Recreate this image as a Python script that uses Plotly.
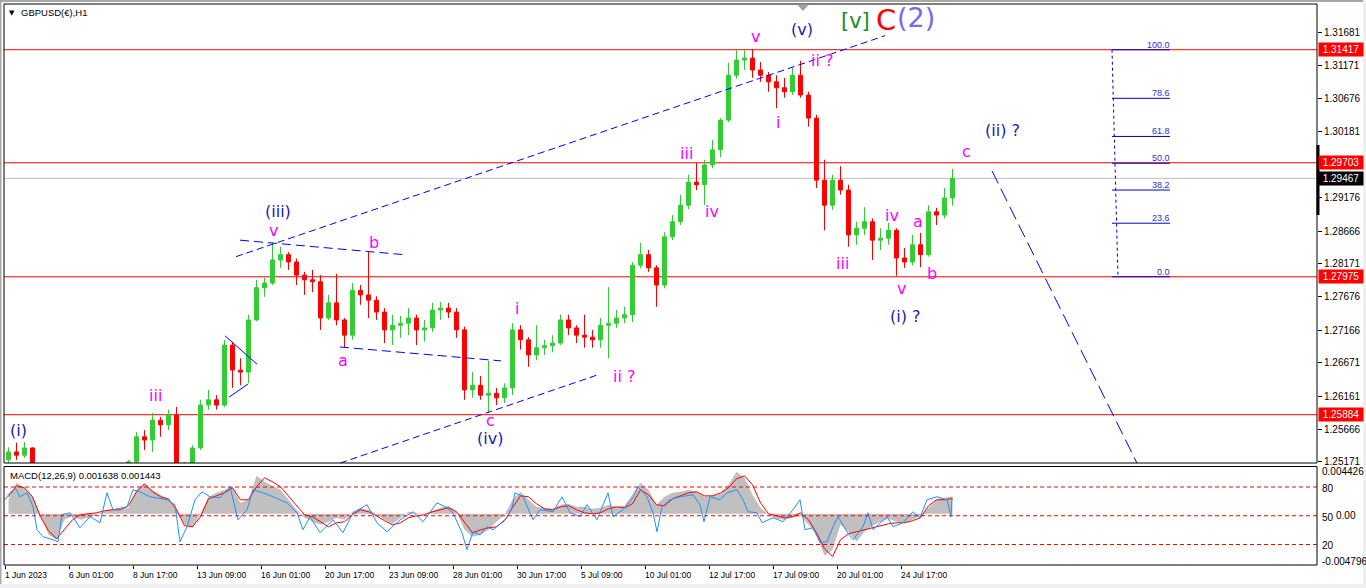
import plotly.graph_objects as go

# ---------------- DATA ----------------
# 8-hour candles (bar index = hourly bar number from 1 Jun 2023)
opens = [1.2520, 1.2532, 1.2527, 1.2538, 1.2505, 1.2482, 1.2467, 1.2459, 1.2462, 1.2459,
         1.2436, 1.2444, 1.2459, 1.2467, 1.2474, 1.2489, 1.2517, 1.2555, 1.2550, 1.2580,
         1.2573, 1.2588, 1.2508, 1.2515, 1.2538, 1.2603, 1.2611, 1.2603, 1.2694, 1.2656,
         1.2653, 1.2732, 1.2781, 1.2788, 1.2823, 1.2831, 1.2820, 1.2800, 1.2793, 1.2790,
         1.2735, 1.2758, 1.2732, 1.2709, 1.2777, 1.2770, 1.2762, 1.2744, 1.2717, 1.2724,
         1.2727, 1.2735, 1.2717, 1.2720, 1.2747, 1.2750, 1.2744, 1.2717, 1.2626, 1.2633,
         1.2618, 1.2621, 1.2614, 1.2629, 1.2717, 1.2702, 1.2679, 1.2690, 1.2693, 1.2697,
         1.2732, 1.2720, 1.2709, 1.2706, 1.2702, 1.2724, 1.2727, 1.2735, 1.2740, 1.2815,
         1.2831, 1.2811, 1.2785, 1.2858, 1.2881, 1.2906, 1.2941, 1.2937, 1.2967, 1.2990,
         1.3035, 1.3103, 1.3126, 1.3129, 1.3111, 1.3103, 1.3093, 1.3084, 1.3078, 1.3103,
         1.3073, 1.3038, 1.2944, 1.2906, 1.2944, 1.2929, 1.2861, 1.2871, 1.2881, 1.2853,
         1.2856, 1.2868, 1.2826, 1.2820, 1.2846, 1.2831, 1.2896, 1.2891, 1.2917]
highs = [1.2539, 1.2546, 1.2547, 1.2539, 1.2508, 1.2489, 1.2474, 1.2471, 1.2474, 1.2467,
         1.2452, 1.2467, 1.2477, 1.2482, 1.2492, 1.2520, 1.2562, 1.2565, 1.2591, 1.2585,
         1.2596, 1.2600, 1.2517, 1.2542, 1.2611, 1.2626, 1.2618, 1.2702, 1.2699, 1.2674,
         1.2740, 1.2793, 1.2796, 1.2849, 1.2843, 1.2835, 1.2825, 1.2805, 1.2808, 1.2800,
         1.2770, 1.2802, 1.2735, 1.2788, 1.2785, 1.2835, 1.2768, 1.2750, 1.2740, 1.2738,
         1.2750, 1.2740, 1.2732, 1.2758, 1.2759, 1.2758, 1.2750, 1.2722, 1.2653, 1.2647,
         1.2670, 1.2629, 1.2636, 1.2727, 1.2724, 1.2706, 1.2724, 1.2702, 1.2709, 1.2740,
         1.2740, 1.2724, 1.2740, 1.2717, 1.2735, 1.2782, 1.2747, 1.2752, 1.2820, 1.2849,
         1.2838, 1.2815, 1.2865, 1.2891, 1.2922, 1.2952, 1.2970, 1.2975, 1.3005, 1.3038,
         1.3122, 1.3141, 1.3141, 1.3143, 1.3123, 1.3108, 1.3103, 1.3099, 1.3114, 1.3125,
         1.3078, 1.3043, 1.2975, 1.2952, 1.2965, 1.2937, 1.2881, 1.2903, 1.2886, 1.2871,
         1.2879, 1.2871, 1.2841, 1.2861, 1.2864, 1.2906, 1.2902, 1.2932, 1.2961]
lows = [1.2502, 1.2520, 1.2523, 1.2502, 1.2474, 1.2459, 1.2444, 1.2447, 1.2452, 1.2429,
        1.2421, 1.2436, 1.2452, 1.2459, 1.2467, 1.2482, 1.2512, 1.2535, 1.2532, 1.2555,
        1.2565, 1.2490, 1.2492, 1.2512, 1.2535, 1.2596, 1.2596, 1.2600, 1.2629, 1.2633,
        1.2636, 1.2730, 1.2767, 1.2785, 1.2811, 1.2808, 1.2785, 1.2770, 1.2774, 1.2717,
        1.2732, 1.2724, 1.2691, 1.2702, 1.2755, 1.2735, 1.2732, 1.2697, 1.2694, 1.2705,
        1.2709, 1.2694, 1.2699, 1.2714, 1.2732, 1.2735, 1.2705, 1.2611, 1.2614, 1.2611,
        1.2591, 1.2603, 1.2606, 1.2618, 1.2687, 1.2661, 1.2671, 1.2679, 1.2683, 1.2694,
        1.2709, 1.2697, 1.2690, 1.2690, 1.2690, 1.2674, 1.2720, 1.2727, 1.2729, 1.2810,
        1.2805, 1.2752, 1.2780, 1.2853, 1.2876, 1.2900, 1.2929, 1.2906, 1.2962, 1.2979,
        1.3032, 1.3098, 1.3111, 1.3099, 1.3093, 1.3078, 1.3053, 1.3069, 1.3073, 1.3069,
        1.3025, 1.2932, 1.2868, 1.2899, 1.2922, 1.2843, 1.2846, 1.2861, 1.2823, 1.2838,
        1.2846, 1.2799, 1.2811, 1.2815, 1.2812, 1.2828, 1.2876, 1.2886, 1.2905]
closes = [1.2532, 1.2527, 1.2538, 1.2505, 1.2482, 1.2467, 1.2459, 1.2462, 1.2459, 1.2436,
          1.2444, 1.2459, 1.2467, 1.2474, 1.2489, 1.2517, 1.2555, 1.2550, 1.2580, 1.2573,
          1.2588, 1.2508, 1.2515, 1.2538, 1.2603, 1.2611, 1.2603, 1.2694, 1.2656, 1.2653,
          1.2732, 1.2781, 1.2788, 1.2823, 1.2831, 1.2820, 1.2800, 1.2793, 1.2790, 1.2735,
          1.2758, 1.2732, 1.2709, 1.2777, 1.2770, 1.2762, 1.2744, 1.2717, 1.2724, 1.2727,
          1.2735, 1.2717, 1.2720, 1.2747, 1.2750, 1.2744, 1.2717, 1.2626, 1.2633, 1.2618,
          1.2621, 1.2614, 1.2629, 1.2717, 1.2702, 1.2679, 1.2690, 1.2693, 1.2697, 1.2732,
          1.2720, 1.2709, 1.2706, 1.2702, 1.2724, 1.2727, 1.2735, 1.2740, 1.2815, 1.2831,
          1.2811, 1.2785, 1.2858, 1.2881, 1.2906, 1.2941, 1.2937, 1.2967, 1.2990, 1.3035,
          1.3103, 1.3126, 1.3129, 1.3111, 1.3103, 1.3093, 1.3084, 1.3078, 1.3103, 1.3073,
          1.3038, 1.2944, 1.2906, 1.2944, 1.2929, 1.2861, 1.2871, 1.2881, 1.2853, 1.2856,
          1.2868, 1.2826, 1.2820, 1.2846, 1.2831, 1.2896, 1.2891, 1.2917, 1.29467]

# MACD(12,26,9): main (grey histogram) and signal (red), one value per candle
macd_main = [0.00131, 0.00290, 0.00243, 0.00159, -0.00009, -0.00196, -0.00243, -0.00056, -0.00019, -0.00056,
             -0.00037, -0.00009, 0.00028, 0.00047, 0.00037, 0.00056, 0.00224, 0.00281, 0.00224, 0.00178,
             0.00131, 0.00056, -0.00103, -0.00131, 0.00000, 0.00159, 0.00196, 0.00224, 0.00253, 0.00103,
             0.00131, 0.00355, 0.00299, 0.00262, 0.00224, 0.00131, 0.00037, -0.00037, -0.00075, -0.00103,
             -0.00075, -0.00037, -0.00056, 0.00019, 0.00047, 0.00037, 0.00000, -0.00056, -0.00094, -0.00037,
             0.00019, 0.00009, 0.00000, 0.00028, 0.00056, 0.00075, 0.00019, -0.00150, -0.00215, -0.00196,
             -0.00150, -0.00075, -0.00009, 0.00131, 0.00206, 0.00131, 0.00065, 0.00056, 0.00047, 0.00084,
             0.00094, 0.00065, 0.00065, 0.00047, 0.00056, 0.00084, 0.00065, 0.00075, 0.00178, 0.00290,
             0.00224, 0.00084, 0.00159, 0.00196, 0.00206, 0.00224, 0.00206, 0.00159, 0.00168, 0.00187,
             0.00271, 0.00393, 0.00337, 0.00178, 0.00056, -0.00009, -0.00047, -0.00056, -0.00037, -0.00019,
             -0.00103, -0.00196, -0.00393, -0.00337, -0.00103, -0.00168, -0.00262, -0.00168, -0.00112, -0.00075,
             -0.00047, -0.00075, -0.00084, -0.00056, -0.00019, 0.00056, 0.00131, 0.00150, 0.001638]
macd_signal = [0.00159, 0.00262, 0.00243, 0.00159, -0.00028, -0.00159, -0.00234, -0.00150, -0.00056, -0.00009,
               0.00000, 0.00009, 0.00028, 0.00037, 0.00037, 0.00075, 0.00206, 0.00281, 0.00206, 0.00159,
               0.00140, 0.00037, -0.00112, -0.00122, -0.00028, 0.00140, 0.00168, 0.00196, 0.00243, 0.00131,
               0.00131, 0.00253, 0.00337, 0.00299, 0.00253, 0.00168, 0.00075, -0.00009, -0.00028, -0.00075,
               -0.00122, -0.00084, -0.00075, -0.00009, 0.00037, 0.00019, -0.00019, -0.00065, -0.00103, -0.00084,
               -0.00037, -0.00019, -0.00009, 0.00019, 0.00037, 0.00056, 0.00019, -0.00075, -0.00178, -0.00150,
               -0.00131, -0.00122, -0.00065, 0.00056, 0.00168, 0.00159, 0.00094, 0.00047, 0.00037, 0.00065,
               0.00075, 0.00037, 0.00009, 0.00000, 0.00009, 0.00047, 0.00065, 0.00056, 0.00094, 0.00224,
               0.00178, 0.00084, 0.00075, 0.00140, 0.00168, 0.00196, 0.00206, 0.00168, 0.00168, 0.00196,
               0.00243, 0.00327, 0.00355, 0.00271, 0.00103, 0.00000, -0.00019, -0.00037, -0.00028, 0.00009,
               -0.00056, -0.00178, -0.00327, -0.00402, -0.00243, -0.00187, -0.00168, -0.00150, -0.00131, -0.00112,
               -0.00094, -0.00084, -0.00084, -0.00065, -0.00037, 0.00075, 0.00131, 0.00131, 0.001443]

# second oscillator (blue line, 0-100 scale with 80/50/20 levels): (hourly bar, value)
osc_bar = [0, 5, 10, 15, 22, 28, 32, 38, 48, 53, 57, 65, 75, 85, 95, 102, 108, 122, 128, 135,
           145, 162, 170, 175, 182, 190, 197, 205, 215, 225, 233, 242, 248, 258, 268, 282, 292, 298, 305, 315,
           328, 338, 348, 362, 372, 382, 395, 408, 418, 432, 442, 448, 457, 462, 468, 475, 482, 488, 502, 507,
           510, 518, 528, 535, 548, 557, 565, 575, 582, 592, 603, 608, 618, 628, 633, 642, 648, 652, 657, 665,
           675, 688, 695, 699, 705, 715, 722, 732, 738, 743, 752, 757, 768, 778, 788, 795, 800, 808, 815, 822,
           828, 833, 842, 848, 858, 863, 868, 882, 888, 898, 908, 915, 922, 932, 942, 946, 947]
osc_val = [66.7, 74.0, 79.2, 69.8, 74.0, 59.4, 35.4, 28.1, 25.0, 22.9, 51.0, 53.1, 37.5, 49.0, 42.7, 74.0, 56.3, 59.4, 77.1, 75.0,
           69.8, 66.7, 61.5, 22.9, 38.5, 66.7, 75.0, 69.8, 68.8, 80.2, 45.8, 56.3, 77.1, 74.0, 69.8, 63.5, 53.1, 35.4, 49.0, 32.3,
           45.8, 32.3, 53.1, 61.5, 42.7, 33.3, 45.8, 54.2, 43.8, 63.5, 58.3, 53.1, 32.3, 14.6, 33.3, 30.0, 38.5, 35.4, 47.9, 58.3,
           74.0, 69.8, 45.8, 56.3, 54.2, 69.8, 53.1, 49.0, 61.5, 45.8, 74.0, 49.0, 56.3, 68.8, 80.2, 69.8, 53.1, 33.3, 59.4, 66.7,
           69.8, 71.9, 61.5, 43.8, 69.8, 66.7, 74.0, 77.1, 66.7, 54.2, 53.1, 42.7, 47.9, 43.8, 56.3, 66.7, 35.4, 37.5, 21.9, 22.9,
           38.5, 49.0, 33.3, 25.0, 38.5, 53.1, 35.4, 49.0, 38.5, 42.7, 54.2, 47.9, 66.7, 69.8, 66.7, 49.0, 68.8]
osc_levels = [80, 50, 20]

# x-axis tick labels (every 64 hourly bars)
tick_labels = ["1 Jun 2023", "6 Jun 01:00", "8 Jun 17:00", "13 Jun 09:00", "16 Jun 01:00",
               "20 Jun 17:00", "23 Jun 09:00", "28 Jun 01:00", "30 Jun 17:00", "5 Jul 09:00",
               "10 Jul 01:00", "12 Jul 17:00", "17 Jul 09:00", "20 Jul 01:00", "24 Jul 17:00"]
bars_per_tick = 64

# price axis ticks
price_ticks = [1.31681, 1.31171, 1.30676, 1.30181, 1.29176, 1.28666, 1.28171,
               1.27676, 1.27166, 1.26671, 1.26161, 1.25666, 1.25171]
red_levels = [1.31417, 1.29703, 1.27975, 1.25884]
bid_price = 1.29467

# Fibonacci retracement (0 -> 100)
fib_low, fib_high = 1.27975, 1.31417
fib_levels = [0.0, 23.6, 38.2, 50.0, 61.8, 78.6, 100.0]
fib_bar_start, fib_bar_end = 1107, 1165

# trend lines: (bar0, price0, bar1, price1, dash)
trendlines = [
    (231, 1.2828, 880, 1.3163, "7px,4px"),
    (335, 1.2515, 593, 1.2649, "7px,4px"),
    (235, 1.2853, 399, 1.2831, "9px,5px"),
    (335, 1.2691, 496, 1.2670, "9px,5px"),
    (220, 1.2708, 252, 1.2665, "solid"),
    (224, 1.2615, 243, 1.2635, "solid"),
    (987, 1.2958, 1132, 1.2515, "14px,6px"),
]

# Elliott wave labels: (text, bar, price, colour, size)
PINK, BLUE = "#FF00FF", "#1A1AB4"
wave_labels = [
    ("(i)", 13, 1.2565, BLUE, 16), ("iii", 150, 1.2618, PINK, 16),
    ("(iii)", 273, 1.2896, BLUE, 16), ("v", 268, 1.2867, PINK, 16),
    ("b", 369, 1.2849, PINK, 16), ("a", 338, 1.2670, PINK, 16),
    ("c", 485, 1.2579, PINK, 16), ("(iv)", 485, 1.2553, BLUE, 16),
    ("i", 512, 1.2749, PINK, 16), ("ii ?", 619, 1.2647, PINK, 16),
    ("iii", 681, 1.2984, PINK, 16), ("iv", 707, 1.2897, PINK, 16),
    ("v", 750, 1.3161, PINK, 16), ("(v)", 797, 1.3173, BLUE, 16),
    ("ii ?", 817, 1.3126, PINK, 16), ("i", 773, 1.3031, PINK, 16),
    ("iii", 837, 1.2817, PINK, 16), ("iv", 887, 1.2890, PINK, 16),
    ("a", 913, 1.2882, PINK, 16), ("v", 896, 1.2779, PINK, 16),
    ("b", 927, 1.2802, PINK, 16), ("(i) ?", 900, 1.2738, BLUE, 16),
    ("c", 961, 1.2988, PINK, 16), ("(ii) ?", 997, 1.3019, BLUE, 16),
    ("[v]", 850, 1.3185, "#228B22", 21), ("C", 881, 1.3187, "#FF0000", 29),
    ("(2)", 911, 1.3190, "#7B68EE", 27),
]

# ---------------- FIGURE ----------------
W, H = 1366, 588
L_M, R_M, T_M, B_M = 4, 49, 4, 23
PW, PH = W - L_M - R_M, H - T_M - B_M


def px_x(p):
    return (p - L_M) / PW


def px_y(p):
    return (H - B_M - p) / PH


bar_x = [8 * k + 3.5 for k in range(len(closes))]

fig = go.Figure()
fig.add_trace(go.Candlestick(
    x=bar_x, open=opens, high=highs, low=lows, close=closes,
    increasing=dict(line=dict(color="#32CD32", width=1), fillcolor="#32CD32"),
    decreasing=dict(line=dict(color="#FF0000", width=1), fillcolor="#FF0000"),
    whiskerwidth=0, showlegend=False, hoverinfo="skip", xaxis="x", yaxis="y"))

fig.add_trace(go.Scatter(x=bar_x, y=macd_main, mode="lines", fill="tozeroy",
                         fillcolor="#C0C0C0", line=dict(width=0, color="#C0C0C0"),
                         showlegend=False, hoverinfo="skip", xaxis="x2", yaxis="y2"))
fig.add_trace(go.Scatter(x=bar_x, y=macd_signal, mode="lines",
                         line=dict(width=1, color="#FF0000"),
                         showlegend=False, hoverinfo="skip", xaxis="x2", yaxis="y2"))
fig.add_trace(go.Scatter(x=osc_bar, y=osc_val, mode="lines",
                         line=dict(width=1, color="#1E90FF"),
                         showlegend=False, hoverinfo="skip", xaxis="x2", yaxis="y3"))

shapes = []
# horizontal red levels + bid line
for lv in red_levels:
    shapes.append(dict(type="line", xref="paper", yref="y", x0=0, x1=1, y0=lv, y1=lv,
                       line=dict(color="#FF0000", width=1), layer="below"))
shapes.append(dict(type="line", xref="paper", yref="y", x0=0, x1=1, y0=bid_price, y1=bid_price,
                   line=dict(color="#C0C0C0", width=1), layer="below"))
# trend lines
for b0, p0, b1, p1, dash in trendlines:
    shapes.append(dict(type="line", xref="x", yref="y", x0=b0, y0=p0, x1=b1, y1=p1,
                       line=dict(color="#0000FF", width=1, dash=dash), layer="above"))
# fibonacci
for lv in fib_levels:
    price = fib_low + lv / 100.0 * (fib_high - fib_low)
    shapes.append(dict(type="line", xref="x", yref="y", x0=fib_bar_start, x1=fib_bar_end,
                       y0=price, y1=price, line=dict(color="#0000CD", width=1), layer="above"))
shapes.append(dict(type="line", xref="x", yref="y", x0=fib_bar_start, y0=fib_high,
                   x1=fib_bar_start + 6, y1=fib_low,
                   line=dict(color="#0000CD", width=1, dash="3px,3px"), layer="above"))
# oscillator levels
for lv in osc_levels:
    shapes.append(dict(type="line", xref="paper", yref="y3", x0=0, x1=1, y0=lv, y1=lv,
                       line=dict(color="#FF0000", width=1, dash="4px,3px"), layer="above"))
# frames
shapes.append(dict(type="rect", xref="paper", yref="paper", x0=0, x1=1, y0=px_y(463), y1=1,
                   line=dict(color="black", width=1)))
shapes.append(dict(type="rect", xref="paper", yref="paper", x0=0, x1=1, y0=0, y1=px_y(466.5),
                   line=dict(color="black", width=1)))
# window chrome
shapes.append(dict(type="rect", xref="paper", yref="paper", x0=px_x(0), x1=px_x(W),
                   y0=px_y(2), y1=px_y(0), fillcolor="#A8A8A8", line=dict(width=0)))
shapes.append(dict(type="rect", xref="paper", yref="paper", x0=px_x(0), x1=px_x(1.5),
                   y0=px_y(H), y1=px_y(0), fillcolor="#A8A8A8", line=dict(width=0)))
shapes.append(dict(type="rect", xref="paper", yref="paper", x0=px_x(0), x1=px_x(W),
                   y0=px_y(H), y1=px_y(584), fillcolor="#F0F0F0", line=dict(width=0)))
shapes.append(dict(type="rect", xref="paper", yref="paper", x0=px_x(1363), x1=px_x(W),
                   y0=px_y(H), y1=px_y(0), fillcolor="#F0F0F0", line=dict(width=0)))
# chart-shift triangle and bid marker on axis
shapes.append(dict(type="path", xref="paper", yref="paper",
                   path="M %f,%f L %f,%f L %f,%f Z" % (px_x(797), px_y(4.5), px_x(809), px_y(4.5),
                                                       px_x(803), px_y(11)),
                   fillcolor="#A0A0A0", line=dict(width=0)))
shapes.append(dict(type="line", xref="paper", yref="paper", x0=px_x(1318), x1=px_x(1318),
                   y0=px_y(215), y1=px_y(145), line=dict(color="black", width=3)))

ann = []
FONT = "Liberation Sans, Arial, sans-serif"
WFONT = "DejaVu Sans, Verdana, sans-serif"
for txt, b, p, col, sz in wave_labels:
    ann.append(dict(text=txt, x=b, y=p, xref="x", yref="y", showarrow=False,
                    font=dict(family=WFONT, size=sz, color=col), xanchor="center", yanchor="middle"))
for lv in fib_levels:
    price = fib_low + lv / 100.0 * (fib_high - fib_low)
    ann.append(dict(text="%.1f" % lv, x=fib_bar_end + 2, y=price, xref="x", yref="y", showarrow=False,
                    font=dict(family=FONT, size=9, color="#3030C8"), xanchor="right", yanchor="bottom",
                    yshift=-2))
# coloured price labels on axis
for lv in red_levels:
    ann.append(dict(text="%.5f" % lv, x=1, y=lv, xref="paper", yref="y", showarrow=False,
                    xanchor="left", yanchor="middle", xshift=1, bgcolor="#FF0000", width=42, height=11,
                    borderpad=1, font=dict(family=FONT, size=10, color="white")))
ann.append(dict(text="%.5f" % bid_price, x=1, y=bid_price, xref="paper", yref="y", showarrow=False,
                xanchor="left", yanchor="middle", xshift=1, bgcolor="#000000", width=42, height=11,
                borderpad=1, font=dict(family=FONT, size=10, color="white")))
# MACD panel side labels ("50" level and "0.00" MACD zero sit side by side)
for txt, py, xp in [("0.004426", 471, 1320), ("80", 488, 1320), ("50", 517, 1320), ("0.00", 515, 1334),
                    ("20", 545, 1320), ("-0.004796", 561, 1320)]:
    ann.append(dict(text=txt, x=px_x(xp), y=px_y(py), xref="paper", yref="paper",
                    showarrow=False, xanchor="left", yanchor="middle",
                    font=dict(family=FONT, size=10, color="black")))
# titles
ann.append(dict(text="▼", x=px_x(12), y=px_y(13), xref="paper", yref="paper", showarrow=False,
                xanchor="center", yanchor="middle", font=dict(family=WFONT, size=7, color="black")))
ann.append(dict(text="GBPUSD(€),H1", x=px_x(19), y=px_y(13), xref="paper", yref="paper",
                showarrow=False, xanchor="left", yanchor="middle",
                font=dict(family=FONT, size=9.5, color="black")))
ann.append(dict(text="MACD(12,26,9) 0.001638 0.001443", x=px_x(8), y=px_y(475.5), xref="paper",
                yref="paper", showarrow=False, xanchor="left", yanchor="middle",
                font=dict(family=FONT, size=9.5, color="black")))
# time labels
for j, lab in enumerate(tick_labels):
    ann.append(dict(text=lab, x=j * bars_per_tick, y=px_y(575), xref="x2", yref="paper",
                    showarrow=False, xanchor="left", yanchor="middle", xshift=-2,
                    font=dict(family=FONT, size=8.5, color="black")))

x_range = [-1, PW - 1]
fig.update_layout(
    width=W, height=H, margin=dict(l=L_M, r=R_M, t=T_M, b=B_M),
    paper_bgcolor="white", plot_bgcolor="white", showlegend=False,
    shapes=shapes, annotations=ann,
    xaxis=dict(domain=[0, 1], range=x_range, anchor="y", showticklabels=False, showgrid=False,
               zeroline=False, ticks="", rangeslider=dict(visible=False), fixedrange=True),
    xaxis2=dict(domain=[0, 1], range=x_range, anchor="y2", showticklabels=False, showgrid=False,
                zeroline=False, ticks="outside", ticklen=3, tickcolor="black",
                tickvals=[j * bars_per_tick for j in range(len(tick_labels))]),
    yaxis=dict(domain=[px_y(463), 1], range=[1.25152, 1.32110], side="right", anchor="x",
               tickvals=price_ticks, ticktext=["%.5f" % v for v in price_ticks],
               ticks="outside", ticklen=4, tickcolor="black", showgrid=False, zeroline=False,
               tickfont=dict(family=FONT, size=10, color="black")),
    yaxis2=dict(domain=[0, px_y(466.5)], range=[-0.004796, 0.004426], anchor="x2",
                showticklabels=False, showgrid=False, zeroline=False, ticks=""),
    yaxis3=dict(overlaying="y2", range=[-1.4, 101.4], anchor="x2", side="right",
                showticklabels=False, showgrid=False, zeroline=False, ticks=""),
)

fig.write_html("out.html", config={"displayModeBar": False},
               post_script="document.body.style.margin='0px';document.body.style.overflow='hidden';")
